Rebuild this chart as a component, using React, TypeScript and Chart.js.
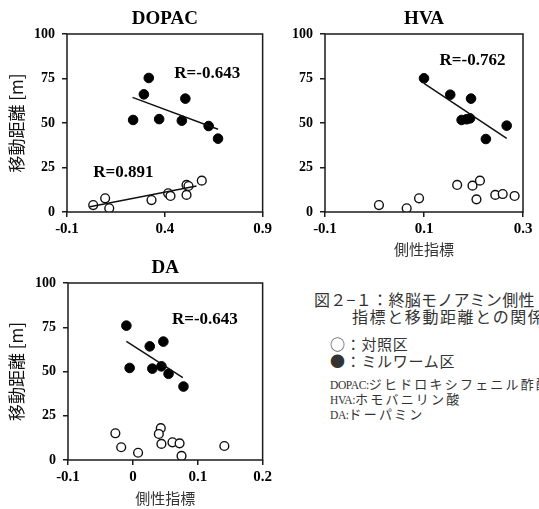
import React, { useEffect, useRef } from "react";
import { Chart, registerables } from "chart.js";

Chart.register(...registerables);

// ---------- DATA ----------
const distanceTicks = [0, 25, 50, 75, 100];
const dopacTicks = [-0.1, 0.4, 0.9];
const hvaTicks = [-0.1, 0.1, 0.3];
const daTicks = [-0.1, 0, 0.1, 0.2];

// ミルワーム区 (filled)
const dopacMealX = [0.238, 0.293, 0.318, 0.371, 0.505, 0.487, 0.624, 0.672];
const dopacMealY = [51.7, 66.1, 75.3, 52.2, 63.7, 51.3, 48.3, 41.2];
// 対照区 (open)
const dopacCtrlX = [0.034, 0.095, 0.116, 0.332, 0.417, 0.429, 0.511, 0.511, 0.521, 0.589];
const dopacCtrlY = [3.9, 7.7, 2.1, 6.7, 10.5, 9.0, 9.6, 15.2, 14.6, 17.6];

const hvaMealX = [0.1, 0.153, 0.195, 0.176, 0.186, 0.193, 0.225, 0.267];
const hvaMealY = [75.1, 65.9, 63.7, 51.7, 52.1, 52.6, 41.0, 48.5];
const hvaCtrlX = [0.009, 0.065, 0.09, 0.167, 0.198, 0.213, 0.206, 0.244, 0.259, 0.283];
const hvaCtrlY = [3.9, 2.1, 7.7, 15.2, 14.8, 17.6, 7.1, 9.6, 10.1, 9.0];

const daMealX = [-0.01, -0.005, 0.026, 0.047, 0.03, 0.044, 0.055, 0.078];
const daMealY = [75.9, 52.0, 64.2, 66.9, 51.6, 52.9, 48.7, 41.5];
const daCtrlX = [-0.027, -0.018, 0.008, 0.043, 0.04, 0.044, 0.061, 0.072, 0.075, 0.141];
const daCtrlY = [15.1, 7.2, 4.1, 18.0, 14.7, 9.1, 10.0, 9.4, 2.3, 7.9];

// regression lines (endpoints)
const dopacMealFitX = [0.235, 0.672];
const dopacMealFitY = [64.4, 46.5];
const dopacCtrlFitX = [0.017, 0.562];
const dopacCtrlFitY = [3.0, 14.6];
const hvaMealFitX = [0.1, 0.267];
const hvaMealFitY = [72.3, 41.4];
const daMealFitX = [-0.01, 0.077];
const daMealFitY = [67.0, 46.6];

const yTitle = "移動距離 [m]";
const xTitle = "側性指標";

// ---------- helpers ----------
const zip = (xs: number[], ys: number[]) => xs.map((x, i) => ({ x, y: ys[i] }));

const SERIF = '"Liberation Serif", "Times New Roman", serif';
const CJK = '"Noto Sans CJK JP", sans-serif';

const decorPlugin = {
  id: "panelDecor",
  afterDatasetsDraw(chart: any, _args: any, opts: any) {
    const { ctx, chartArea: a, scales } = chart;
    ctx.save();
    ctx.strokeStyle = "#1a1a1a";
    ctx.lineWidth = 1.5;
    ctx.strokeRect(a.left, a.top, a.right - a.left, a.bottom - a.top);
    ctx.fillStyle = "#000";
    ctx.textAlign = "center";
    ctx.textBaseline = "middle";
    ctx.font = `bold 19px ${SERIF}`;
    ctx.fillText(opts.title, (a.left + a.right) / 2, a.top - 15);
    ctx.font = `bold 17px ${SERIF}`;
    for (const l of opts.labels || []) {
      ctx.fillText(l.text, scales.x.getPixelForValue(l.x), scales.y.getPixelForValue(l.y));
    }
    ctx.restore();
  },
};

type Fit = { xs: number[]; ys: number[] };
type PanelProps = {
  width: number;
  height: number;
  left: number;
  top: number;
  padTop: number;
  padRight: number;
  yAxisWidth: number;
  xAxisHeight: number;
  xMin: number;
  xMax: number;
  xTicks: number[];
  title: string;
  showYTitle: boolean;
  showXTitle: boolean;
  meal: Fit;
  ctrl: Fit;
  fits: Fit[];
  labels: { text: string; x: number; y: number }[];
};

function Panel(p: PanelProps) {
  const ref = useRef<HTMLCanvasElement>(null);
  useEffect(() => {
    if (!ref.current) return;
    const lineSets = p.fits.map((f) => ({
      data: zip(f.xs, f.ys),
      showLine: true,
      borderColor: "#111",
      borderWidth: 1.5,
      pointRadius: 0,
      pointHoverRadius: 0,
    }));
    const chart = new Chart(ref.current, {
      type: "scatter",
      data: {
        datasets: [
          ...lineSets,
          {
            data: zip(p.meal.xs, p.meal.ys),
            backgroundColor: "#000",
            borderColor: "#000",
            borderWidth: 1,
            pointRadius: 4.8,
          },
          {
            data: zip(p.ctrl.xs, p.ctrl.ys),
            backgroundColor: "#fff",
            borderColor: "#111",
            borderWidth: 1.4,
            pointRadius: 4.4,
          },
        ],
      } as any,
      plugins: [decorPlugin],
      options: {
        animation: false,
        responsive: false,
        events: [],
        layout: { padding: { left: 0, top: p.padTop, right: p.padRight, bottom: 0 } },
        plugins: {
          legend: { display: false },
          tooltip: { enabled: false },
          panelDecor: { title: p.title, labels: p.labels },
        } as any,
        scales: {
          x: {
            type: "linear",
            min: p.xMin,
            max: p.xMax,
            afterBuildTicks: (s: any) => {
              s.ticks = p.xTicks.map((v) => ({ value: v }));
            },
            afterFit: (s: any) => {
              s.height = p.xAxisHeight;
            },
            border: { display: false },
            grid: {
              drawOnChartArea: false,
              drawTicks: true,
              tickLength: 5,
              color: "#1a1a1a",
              lineWidth: 1.5,
            },
            ticks: {
              color: "#000",
              font: { family: SERIF, size: 15, weight: "bold" },
              padding: 3,
              maxRotation: 0,
              autoSkip: false,
              callback: (v: any) => String(v),
            },
            title: {
              display: p.showXTitle,
              text: xTitle,
              color: "#333",
              font: { family: CJK, size: 15 },
              padding: { top: 0, bottom: 2 },
            },
          },
          y: {
            type: "linear",
            min: 0,
            max: 100,
            afterBuildTicks: (s: any) => {
              s.ticks = distanceTicks.map((v) => ({ value: v }));
            },
            afterFit: (s: any) => {
              s.width = p.yAxisWidth;
            },
            border: { display: false },
            grid: {
              drawOnChartArea: false,
              drawTicks: true,
              tickLength: 5,
              color: "#1a1a1a",
              lineWidth: 1.5,
            },
            ticks: {
              color: "#000",
              font: { family: SERIF, size: 14, weight: "bold" },
              padding: 7,
              callback: (v: any) => String(v),
            },
            title: {
              display: p.showYTitle,
              text: yTitle,
              color: "#111",
              font: { family: CJK, size: 17 },
              padding: { top: 6, bottom: 0 },
            },
          },
        },
      } as any,
    });
    return () => chart.destroy();
  }, []);
  return (
    <canvas
      ref={ref}
      width={p.width}
      height={p.height}
      style={{ position: "absolute", left: p.left, top: p.top, width: p.width, height: p.height }}
    />
  );
}

const sym: React.CSSProperties = { fontFamily: CJK };
const latin: React.CSSProperties = { fontFamily: SERIF, fontSize: 11.5, letterSpacing: "-0.4px" };
const line = (left: number, top: number, size: number, spacing: number, lh: number): React.CSSProperties => ({
  position: "absolute",
  left,
  top,
  whiteSpace: "nowrap",
  fontFamily: CJK,
  fontSize: size,
  letterSpacing: `${spacing}px`,
  lineHeight: `${lh}px`,
  color: "#333",
});

export default function App() {
  return (
    <div
      style={{
        position: "absolute",
        left: 0,
        top: 0,
        width: 539,
        height: 509,
        overflow: "hidden",
        background: "#fff",
      }}
    >
      <Panel
        width={275}
        height={260}
        left={0}
        top={0}
        padTop={34}
        padRight={12}
        yAxisWidth={67}
        xAxisHeight={48}
        xMin={-0.1}
        xMax={0.9}
        xTicks={dopacTicks}
        title="DOPAC"
        showYTitle={true}
        showXTitle={false}
        meal={{ xs: dopacMealX, ys: dopacMealY }}
        ctrl={{ xs: dopacCtrlX, ys: dopacCtrlY }}
        fits={[
          { xs: dopacMealFitX, ys: dopacMealFitY },
          { xs: dopacCtrlFitX, ys: dopacCtrlFitY },
        ]}
        labels={[
          { text: "R=-0.643", x: 0.617, y: 78 },
          { text: "R=0.891", x: 0.188, y: 21.9 },
        ]}
      />
      <Panel
        width={264}
        height={260}
        left={275}
        top={0}
        padTop={34}
        padRight={16}
        yAxisWidth={50}
        xAxisHeight={48}
        xMin={-0.1}
        xMax={0.3}
        xTicks={hvaTicks}
        title="HVA"
        showYTitle={false}
        showXTitle={true}
        meal={{ xs: hvaMealX, ys: hvaMealY }}
        ctrl={{ xs: hvaCtrlX, ys: hvaCtrlY }}
        fits={[{ xs: hvaMealFitX, ys: hvaMealFitY }]}
        labels={[{ text: "R=-0.762", x: 0.198, y: 84.8 }]}
      />
      <Panel
        width={275}
        height={259}
        left={0}
        top={250}
        padTop={33}
        padRight={8}
        yAxisWidth={68}
        xAxisHeight={49}
        xMin={-0.1}
        xMax={0.2}
        xTicks={daTicks}
        title="DA"
        showYTitle={true}
        showXTitle={true}
        meal={{ xs: daMealX, ys: daMealY }}
        ctrl={{ xs: daCtrlX, ys: daCtrlY }}
        fits={[{ xs: daMealFitX, ys: daMealFitY }]}
        labels={[{ text: "R=-0.643", x: 0.111, y: 79.3 }]}
      />
      <div style={line(314, 290, 16, 0.3, 19)}>図２−１：終脳モノアミン側性</div>
      <div style={line(352, 307, 16, 1.6, 19)}>指標と移動距離との関係</div>
      <div style={line(330, 335, 15, 0.7, 17)}>
        <div><span style={sym}>○</span>：対照区</div>
        <div><span style={sym}>●</span>：ミルワーム区</div>
      </div>
      <div style={line(330, 377, 13, 2.2, 14)}>
        <div><span style={latin}>DOPAC:</span>ジヒドロキシフェニル酢酸</div>
        <div><span style={latin}>HVA:</span>ホモバニリン酸</div>
        <div><span style={latin}>DA:</span>ドーパミン</div>
      </div>
    </div>
  );
}
